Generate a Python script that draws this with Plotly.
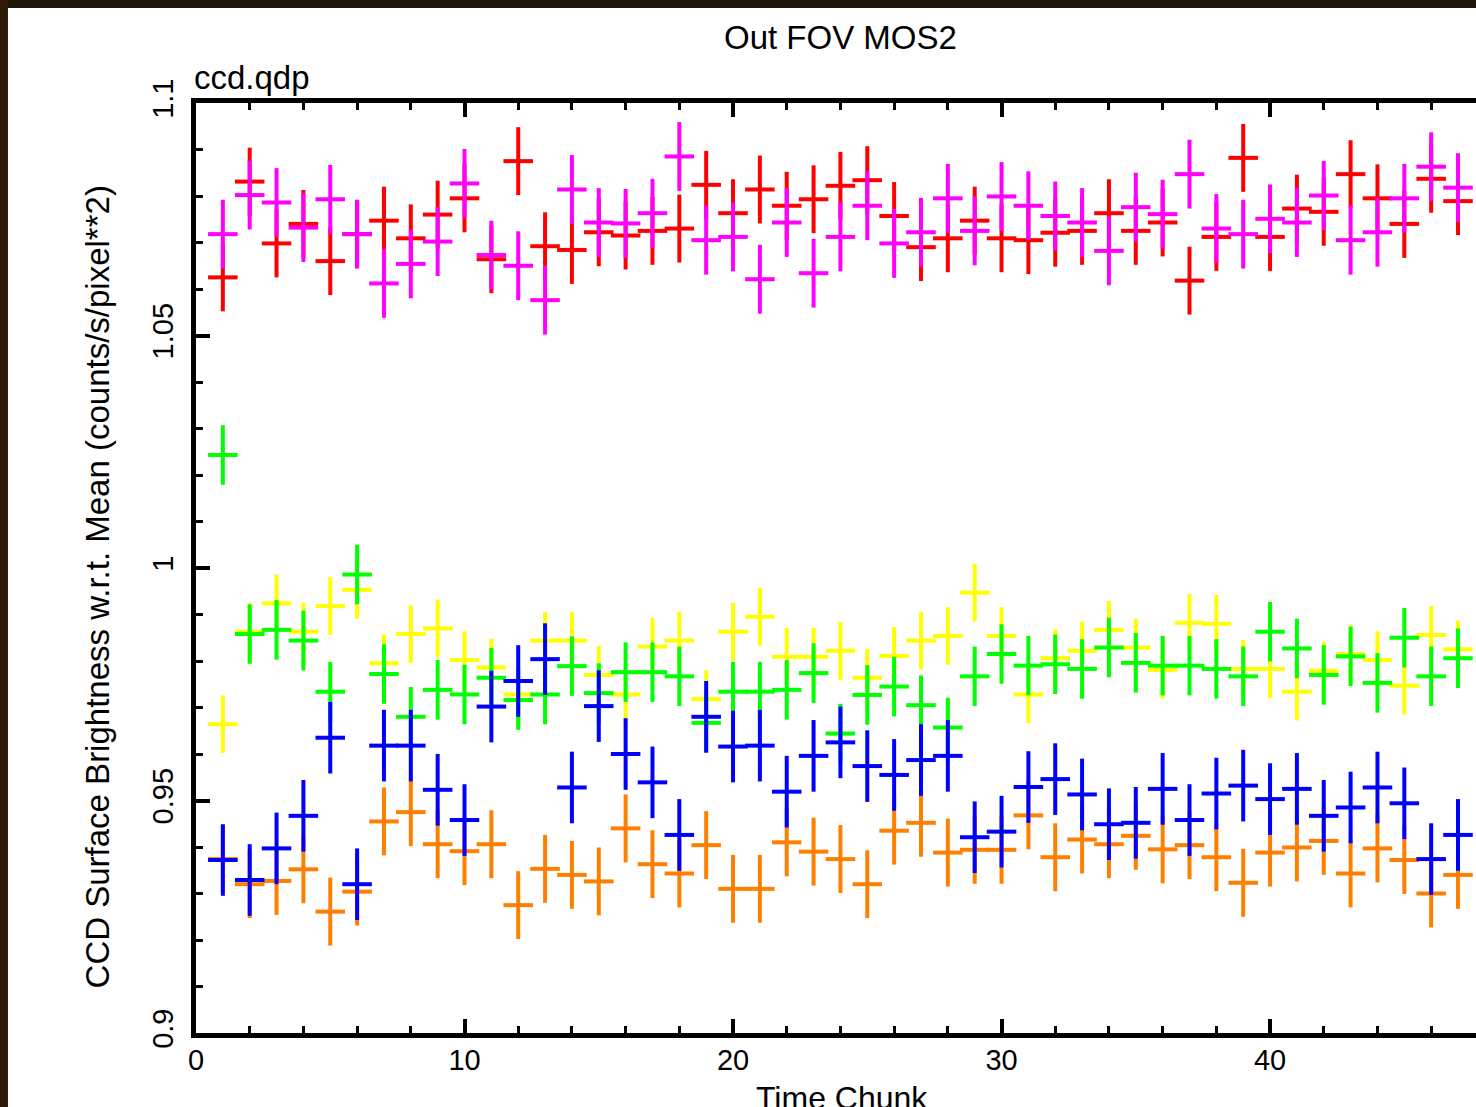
import plotly.graph_objects as go

# ---- data ----
time_chunk = list(range(1, 48))

red_y = [1.0625, 1.0831, 1.0698, 1.0740, 1.0660, 1.0718, 1.0747, 1.0709, 1.0760, 1.0795,
         1.0664, 1.0875, 1.0692, 1.0684, 1.0722, 1.0715, 1.0725, 1.0730, 1.0824, 1.0763,
         1.0814, 1.0779, 1.0793, 1.0822, 1.0834, 1.0757, 1.0690, 1.0709, 1.0747, 1.0709,
         1.0705, 1.0721, 1.0725, 1.0763, 1.0725, 1.0743, 1.0618, 1.0712, 1.0882, 1.0712,
         1.0773, 1.0766, 1.0847, 1.0795, 1.0740, 1.0837, 1.0789]
magenta_y = [1.0718, 1.0802, 1.0786, 1.0732, 1.0793, 1.0718, 1.0612, 1.0654, 1.0702, 1.0827,
             1.0673, 1.0650, 1.0576, 1.0814, 1.0743, 1.0741, 1.0763, 1.0885, 1.0705, 1.0712,
             1.0621, 1.0743, 1.0634, 1.0712, 1.0779, 1.0698, 1.0722, 1.0795, 1.0725, 1.0799,
             1.0779, 1.0757, 1.0743, 1.0682, 1.0776, 1.0761, 1.0847, 1.0730, 1.0718, 1.0751,
             1.0743, 1.0801, 1.0705, 1.0722, 1.0795, 1.0863, 1.0818]
yellow_y = [0.9664, 0.9863, 0.9924, 0.9863, 0.9918, 0.9953, 0.9795, 0.9858, 0.9870, 0.9802,
            0.9786, 0.9728, 0.9844, 0.9844, 0.9770, 0.9728, 0.9831, 0.9844, 0.9718, 0.9863,
            0.9895, 0.9809, 0.9809, 0.9822, 0.9764, 0.9811, 0.9844, 0.9854, 0.9947, 0.9854,
            0.9728, 0.9806, 0.9822, 0.9867, 0.9829, 0.9781, 0.9882, 0.9880, 0.9783, 0.9783,
            0.9734, 0.9779, 0.9815, 0.9802, 0.9747, 0.9856, 0.9825]
green_y = [1.0243, 0.9858, 0.9867, 0.9844, 0.9734, 0.9986, 0.9772, 0.9680, 0.9738, 0.9728,
           0.9764, 0.9716, 0.9728, 0.9789, 0.9731, 0.9776, 0.9776, 0.9767, 0.9667, 0.9734,
           0.9734, 0.9738, 0.9774, 0.9644, 0.9727, 0.9745, 0.9705, 0.9657, 0.9767, 0.9815,
           0.9790, 0.9793, 0.9783, 0.9829, 0.9796, 0.9790, 0.9790, 0.9783, 0.9767, 0.9863,
           0.9827, 0.9770, 0.9810, 0.9753, 0.9850, 0.9767, 0.9806]
orange_y = [0.9374, 0.9320, 0.9327, 0.9352, 0.9261, 0.9304, 0.9455, 0.9475, 0.9406, 0.9391,
            0.9406, 0.9275, 0.9353, 0.9340, 0.9326, 0.9440, 0.9363, 0.9343, 0.9404, 0.9310,
            0.9310, 0.9410, 0.9390, 0.9374, 0.9320, 0.9435, 0.9452, 0.9388, 0.9394, 0.9394,
            0.9468, 0.9378, 0.9416, 0.9406, 0.9424, 0.9395, 0.9404, 0.9378, 0.9323, 0.9388,
            0.9399, 0.9413, 0.9343, 0.9397, 0.9372, 0.9300, 0.9340]
blue_y = [0.9372, 0.9329, 0.9397, 0.9467, 0.9635, 0.9320, 0.9618, 0.9618, 0.9523, 0.9458,
          0.9702, 0.9757, 0.9804, 0.9528, 0.9703, 0.9600, 0.9539, 0.9426, 0.9680, 0.9616,
          0.9618, 0.9519, 0.9596, 0.9625, 0.9574, 0.9555, 0.9587, 0.9596, 0.9421, 0.9433,
          0.9529, 0.9546, 0.9513, 0.9449, 0.9452, 0.9525, 0.9458, 0.9515, 0.9532, 0.9503,
          0.9525, 0.9467, 0.9485, 0.9528, 0.9494, 0.9374, 0.9426]

# half-widths of the error bars
x_err = 0.55
red_err = 0.0073
magenta_err = 0.0074
yellow_err = 0.0062
green_err = 0.0064
orange_err = 0.0073
blue_err = 0.0077

y_tick_vals = [0.9, 0.95, 1.0, 1.05, 1.1]
y_tick_text = ["0.9", "0.95", "1", "1.05", "1.1"]
x_tick_vals = [0, 10, 20, 30, 40]

FONT = "Liberation Sans, Arial, Helvetica, sans-serif"

series = [
    (red_y, red_err, "#ff0000"),
    (magenta_y, magenta_err, "#ff00ff"),
    (yellow_y, yellow_err, "#ffff00"),
    (green_y, green_err, "#00ff00"),
    (orange_y, orange_err, "#ff8000"),
    (blue_y, blue_err, "#0000ff"),
]

fig = go.Figure()
for ys, err, col in series:
    fig.add_trace(go.Scatter(
        x=time_chunk, y=ys, mode="markers",
        marker=dict(size=1, color=col),
        error_x=dict(type="constant", value=x_err, thickness=4, width=0, color=col),
        error_y=dict(type="constant", value=err, thickness=4, width=0, color=col),
        showlegend=False, hoverinfo="x+y",
    ))

axis_font = dict(family=FONT, size=29, color="black")

fig.update_layout(
    width=1476, height=1107,
    margin=dict(l=196, r=0, t=103, b=74, pad=0),
    paper_bgcolor="white", plot_bgcolor="white",
    font=dict(family=FONT, color="black"),
    xaxis=dict(
        range=[0, 47.67], tickvals=x_tick_vals,
        ticks="inside", ticklen=14, tickwidth=4, tickcolor="black",
        showline=True, linewidth=5, linecolor="black", mirror="ticks",
        showgrid=False, zeroline=False, tickfont=axis_font,
        ticklabelstandoff=-3,
        minor=dict(dtick=2, tick0=0, ticks="inside", ticklen=7, tickwidth=3,
                   tickcolor="black", showgrid=False),
    ),
    yaxis=dict(
        range=[0.9, 1.1], tickvals=y_tick_vals, ticktext=y_tick_text, tickangle=-90,
        ticks="inside", ticklen=14, tickwidth=4, tickcolor="black",
        showline=True, linewidth=5, linecolor="black", mirror=False,
        showgrid=False, zeroline=False, tickfont=axis_font,
        ticklabelstandoff=6,
        minor=dict(dtick=0.01, tick0=0.9, ticks="inside", ticklen=7, tickwidth=3,
                   tickcolor="black", showgrid=False),
    ),
    yaxis2=dict(
        range=[0.9, 1.1], overlaying="y", side="right", anchor="x",
        tickvals=[0.95, 1.0, 1.05], ticks="inside", ticklen=3, tickwidth=4,
        tickcolor="black", showticklabels=False, showline=False,
        showgrid=False, zeroline=False,
    ),
)

title_font = dict(family=FONT, size=33, color="black")
fig.add_annotation(text="Out FOV MOS2", xref="paper", yref="paper",
                   x=0.5039, y=1.0699, xanchor="center", yanchor="middle",
                   showarrow=False, font=title_font)
fig.add_annotation(text="ccd.qdp", xref="paper", yref="paper",
                   x=0.0, y=1.0247, xanchor="left", yanchor="middle",
                   xshift=-4, yshift=3, showarrow=False, font=title_font)
fig.add_annotation(text="Time Chunk", xref="paper", yref="paper",
                   x=0.505, y=-0.0699, xanchor="center", yanchor="middle",
                   showarrow=False, font=dict(family=FONT, size=32, color="black"))
fig.add_annotation(text="CCD Surface Brightness w.r.t. Mean (counts/s/pixel**2)",
                   xref="paper", yref="paper", x=-0.0762, y=0.4796,
                   xanchor="center", yanchor="middle", textangle=-90,
                   showarrow=False, font=dict(family=FONT, size=33, color="black"))

# dark frame at top and left of the page
fig.add_shape(type="rect", xref="paper", yref="paper", x0=-0.2, x1=1.05,
              y0=1.10215, y1=1.2, fillcolor="#1e150b", line=dict(width=0), layer="above")
fig.add_shape(type="rect", xref="paper", yref="paper", x0=-0.2, x1=-0.1469,
              y0=-0.2, y1=1.2, fillcolor="#2c1b0a", line=dict(width=0), layer="above")

fig.write_html("out.html")
